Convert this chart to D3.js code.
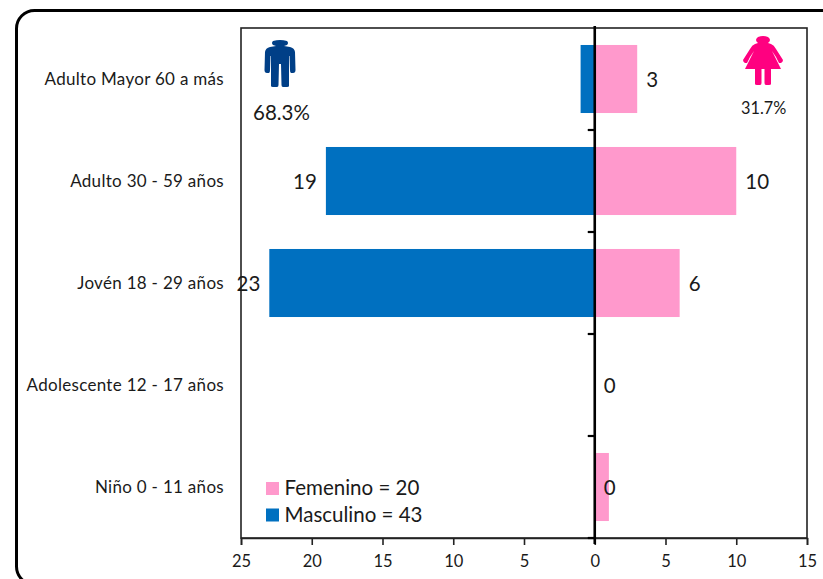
<!DOCTYPE html>
<html><head><meta charset="utf-8">
<style>html,body{margin:0;padding:0;background:#fff}svg{display:block}text{font-family:Lato,"Open Sans",sans-serif;fill:#1a1a1a}</style>
<script src="https://cdn.jsdelivr.net/npm/d3@7/dist/d3.min.js"></script></head>
<body><svg id="c" width="823" height="579"></svg>
<script>
const categories=["Adulto Mayor 60 a más","Adulto 30 - 59 años","Jovén 18 - 29 años","Adolescente 12 - 17 años","Niño 0 - 11 años"];
const masculino=[1,19,23,0,0];
const femenino=[3,10,6,0,1];
const labelsM=[null,"19","23",null,null];
const labelsF=["3","10","6","0","0"];
const xTicks=[-25,-20,-15,-10,-5,0,5,10,15];
const legendItems=["Femenino = 20","Masculino = 43"];
const pctM="68.3%",pctF="31.7%";
const colM="#0070c0",colF="#ff99cc";

const svg=d3.select("#c");
const L=241,R=807,T=28,B=538;
const x=d3.scaleLinear().domain([-25,15]).range([L,R]);
const y=d3.scaleBand().domain(categories).range([T,B]).paddingInner(0.333).paddingOuter(0.1665);
const yB=d3.scaleBand().domain(categories).range([T,B]);

svg.append("rect").attr("x",16.5).attr("y",10.5).attr("width",880).attr("height",574).attr("rx",18)
  .attr("fill","#fff").attr("stroke","#000").attr("stroke-width",3);
svg.append("rect").attr("x",L).attr("y",T).attr("width",R-L).attr("height",B-T)
  .attr("fill","#fff").attr("stroke","#222").attr("stroke-width",1.6);

svg.selectAll(".m").data(categories).join("rect").attr("x",(d,i)=>x(-masculino[i])).attr("y",d=>y(d))
  .attr("width",(d,i)=>x(0)-x(-masculino[i])).attr("height",y.bandwidth()).attr("fill",colM);
svg.selectAll(".f").data(categories).join("rect").attr("x",x(0)).attr("y",d=>y(d))
  .attr("width",(d,i)=>x(femenino[i])-x(0)).attr("height",y.bandwidth()).attr("fill",colF);

const ax=svg.append("g").attr("transform",`translate(0,${B})`)
  .call(d3.axisBottom(x).tickValues(xTicks).tickSize(7).tickPadding(10).tickFormat(d=>Math.abs(d)));
ax.select(".domain").attr("stroke","#222").attr("stroke-width",1.6);
ax.selectAll("line").attr("stroke","#222").attr("stroke-width",1.6);
ax.selectAll("text").style("font-size","16.5px").style("font-family","Lato").attr("fill","#1a1a1a");

const mid=svg.append("g");
mid.append("line").attr("x1",x(0)).attr("x2",x(0)).attr("y1",T-2).attr("y2",B+6).attr("stroke","#000").attr("stroke-width",2.6);
const bounds=categories.map(c=>yB(c)+yB.bandwidth());
mid.selectAll(".t").data(bounds).join("line").attr("x1",x(0)-7).attr("x2",x(0)).attr("y1",d=>d).attr("y2",d=>d)
  .attr("stroke","#000").attr("stroke-width",2.2);

svg.selectAll(".cat").data(categories).join("text").attr("x",224).attr("y",d=>yB(d)+yB.bandwidth()/2)
  .attr("dy","0.35em").attr("text-anchor","end").style("font-size","17px").style("letter-spacing","0.3px").text(d=>d);

svg.selectAll(".lm").data(categories).join("text").attr("x",(d,i)=>x(-masculino[i])-9).attr("y",d=>yB(d)+yB.bandwidth()/2+1)
  .attr("dy","0.35em").attr("text-anchor","end").style("font-size","20.5px").text((d,i)=>labelsM[i]);
svg.selectAll(".lf").data(categories).join("text")
  .attr("x",(d,i)=>i===4?x(0)+9:x(femenino[i])+9).attr("y",d=>yB(d)+yB.bandwidth()/2+1)
  .attr("dy","0.35em").style("font-size","20.5px").text((d,i)=>labelsF[i]);

// legend
const lg=svg.selectAll(".lg").data(legendItems).join("g").attr("transform",(d,i)=>`translate(266,${488+i*26.5})`);
lg.append("rect").attr("x",0).attr("y",-6).attr("width",13).attr("height",13).attr("fill",(d,i)=>i?colM:colF);
lg.append("text").attr("x",18.5).attr("y",0).attr("dy","0.35em").style("font-size","20.5px").text(d=>d);

// percent labels
svg.append("text").attr("x",253).attr("y",113).attr("dy","0.35em").style("font-size","20.5px").text(pctM);
svg.append("text").attr("x",741).attr("y",108).attr("dy","0.35em").style("font-size","16.3px").text(pctF);

// pictograms
svg.append("path").attr("fill","#003f87").attr("transform","translate(280,40)")
 .attr("d","M-7,1 Q0,-1 7,1 Q9,3 7,5 L4,6 L10,7 Q14.5,8 15,12 L15.5,30 Q15.5,33 13,33 L11,33 Q10,33 10,30 L9.5,16 L9,16 L9,46 Q9,47 7,47 L3,47 Q1.5,47 1.5,45 L1,24 L-1,24 L-1.5,45 Q-1.5,47 -3,47 L-7,47 Q-9,47 -9,46 L-9,16 L-9.5,16 L-10,30 Q-10,33 -11,33 L-13,33 Q-15.5,33 -15.5,30 L-15,12 Q-14.5,8 -10,7 L-4,6 L-7,5 Q-9,3 -7,1 Z");
svg.append("path").attr("fill","#ff0080").attr("transform","translate(763,37)")
 .attr("d","M-5,0 Q0,-2 5,0 Q9,3 5,6 L8,7 Q11,8 13,12 L20,23 Q20,25 18,26 L16,26 L13,20 L9,14 L18,32 L8,32 L8,47 Q8,48 6,48 L3,48 Q1.5,48 1.5,46 L1.5,32 L-1.5,32 L-1.5,46 Q-1.5,48 -3,48 L-6,48 Q-8,48 -8,47 L-8,32 L-18,32 L-9,14 L-13,20 L-16,26 L-18,26 Q-20,25 -20,23 L-13,12 Q-11,8 -8,7 L-5,6 Q-9,3 -5,0 Z");
</script></body></html>
